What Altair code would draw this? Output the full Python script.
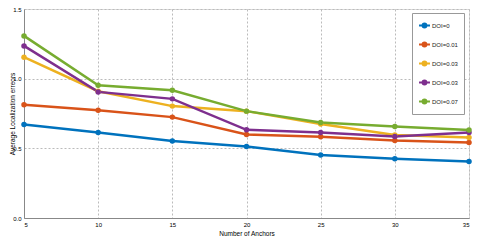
import altair as alt
import pandas as pd

anchors = [5, 10, 15, 20, 25, 30, 35]
series_names = ["DOI=0", "DOI=0.01", "DOI=0.03 ", "DOI=0.03", "DOI=0.07"]
doi_0 = [0.671, 0.614, 0.552, 0.513, 0.452, 0.425, 0.406]
doi_001 = [0.812, 0.774, 0.724, 0.600, 0.583, 0.556, 0.542]
doi_003a = [1.154, 0.910, 0.803, 0.767, 0.674, 0.595, 0.578]
doi_003b = [1.235, 0.905, 0.855, 0.633, 0.614, 0.585, 0.614]
doi_007 = [1.307, 0.953, 0.917, 0.767, 0.685, 0.657, 0.631]
colors = ["#0072BD", "#D95319", "#EDB120", "#7E2F8E", "#77AC30"]

rows = []
for name, vals in zip(series_names, [doi_0, doi_001, doi_003a, doi_003b, doi_007]):
    for a, v in zip(anchors, vals):
        rows.append({"anchors": a, "err": v, "series": name})
df = pd.DataFrame(rows)

color = alt.Color(
    "series:N",
    scale=alt.Scale(domain=series_names, range=colors),
    sort=series_names,
    legend=alt.Legend(
        title=None, orient="none", legendX=388, legendY=4,
        fillColor="white", strokeColor="#999999", padding=6,
        labelFontSize=6, labelFont="Liberation Sans", labelColor="#222222",
        symbolType="M-1,0L1,0M-0.35,0a0.35,0.35 0 1,0 0.7,0a0.35,0.35 0 1,0 -0.7,0",
        symbolSize=120, symbolStrokeWidth=2, rowPadding=6, labelOffset=1,
    ),
)

axis_common = dict(gridDash=[2, 2], gridColor="#bbbbbb", ticks=False,
                   labelFontSize=6, titleFontSize=6.5, titleFontWeight="normal",
                   domainColor="#888888", labelPadding=3)
x = alt.X("anchors:Q", title="Number of Anchors",
          scale=alt.Scale(domain=[5, 35], nice=False),
          axis=alt.Axis(values=anchors, format="d", titlePadding=3, **axis_common))
y = alt.Y("err:Q", title="Average Localization erreors",
          scale=alt.Scale(domain=[0, 1.5], nice=False),
          axis=alt.Axis(values=[0, 0.5, 1, 1.5], titleX=-12, titleY=104.5,
                        titleAngle=270, titleBaseline="middle", titleAlign="center",
                        **axis_common))

lines = alt.Chart(df).mark_line(strokeWidth=2.5).encode(x=x, y=y, color=color)
pts = alt.Chart(df).mark_point(filled=True, size=30, opacity=1, shape="circle").encode(
    x=x, y=y, color=alt.Color("series:N", scale=alt.Scale(domain=series_names, range=colors), legend=None))

chart = (lines + pts).properties(
    width=445, height=209,
    autosize=alt.AutoSizeParams(type="none"),
    padding={"left": 16, "top": 1, "right": 3, "bottom": 23},
).configure_view(stroke="#888888", strokeWidth=1).configure_axis(
    labelFont="Liberation Sans", titleFont="Liberation Sans",
    labelColor="#333333", titleColor="#222222",
).configure(background="white")

chart.save("out.html", embed_options={"renderer": "svg", "actions": False})
